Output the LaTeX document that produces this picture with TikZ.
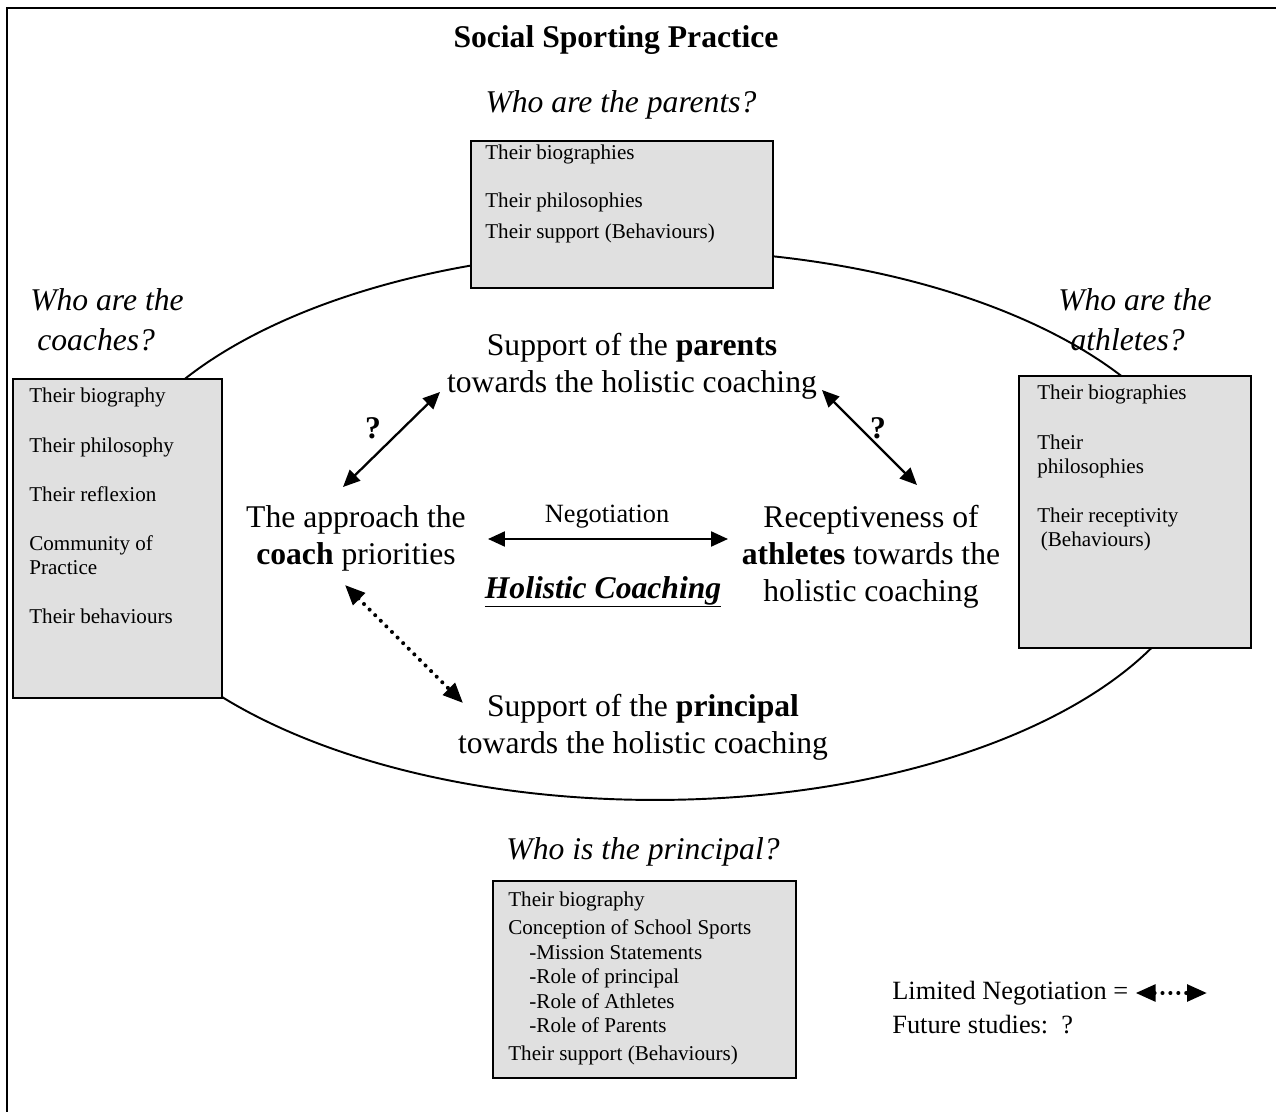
\documentclass[tikz,border=0pt]{standalone}
\usepackage{fontspec}
\setmainfont{Liberation Serif}
\usetikzlibrary{arrows.meta}
\usetikzlibrary{calc}

\newcommand{\mainsize}{\fontsize{18}{21}\selectfont}
\newcommand{\boxsize}{\fontsize{12}{13.9}\selectfont}
\newcommand{\legsize}{\fontsize{15}{18}\selectfont}

\begin{document}
\begin{tikzpicture} [
    x=0.02cm, y=-0.02cm,
    block/.style   = { rectangle, draw=black, line width=1pt, fill=black!12,
                       anchor=north west },
    boxtext/.style = { anchor=north west, inner sep=0pt, align=left, font=\boxsize },
    main/.style    = { align=center, inner sep=0pt, font=\mainsize },
    quest/.style   = { inner sep=0pt, font=\mainsize\itshape },
    line/.style    = { draw, line width=1.3pt,
                       {Triangle[length=0.34cm,width=0.3cm]}-{Triangle[length=0.34cm,width=0.3cm]} },
    dots/.style    = { line width=2.3pt, line cap=round, dash pattern=on 0pt off 4.5pt,
                       {Triangle[length=0.4cm,width=0.33cm]}-{Triangle[length=0.4cm,width=0.33cm]} },
    etiq/.style    = { midway, font=\mainsize\bfseries },
  ]
\useasboundingbox (0,0) rectangle (1276,1112);
\draw[line width=1.3pt] (7,1112) -- (7,8) -- (1276,8);
% the ellipse goes behind the boxes
\draw[line width=1.1pt] (655,525) ellipse [x radius=11.1cm, y radius=5.5cm];

\node (title) [font=\mainsize\bfseries] at (616,40) {Social Sporting Practice};

% parents
\node (qpar) [quest] at (621,105) {Who are the parents?};
\node (pbox) [block, minimum width=6.04cm, minimum height=2.94cm] at (470,140) {};
\node (ptext) [boxtext] at ($(pbox.north west)+(15,5)$)
  {Their biographies\\[13pt]Their philosophies\\[4pt]Their support (Behaviours)};

% coaches
\node (qcoa) [quest, align=left] at (107,320) {Who are the\\[1.7pt]\hspace*{4pt}coaches?};
\node (cbox) [block, minimum width=4.18cm, minimum height=6.38cm] at (12,378) {};
\node (ctext) [boxtext] at ($(cbox.north west)+(17,10)$)
  {Their biography\\[14pt]Their philosophy\\[14pt]Their reflexion\\[14pt]Community of\\Practice\\[14pt]Their behaviours};

% athletes
\node (qath) [quest, align=left] at (1135,320) {Who are the\\[1.7pt]\hspace*{7pt}athletes?};
\node (abox) [block, minimum width=4.64cm, minimum height=5.44cm] at (1018,375) {};
\node (atext) [boxtext] at ($(abox.north west)+(19,10)$)
  {Their biographies\\[14pt]Their\\philosophies\\[14pt]Their receptivity\\\hspace*{2pt}(Behaviours)};

% principal
\node (qpri) [quest] at (643,852) {Who is the principal?};
\node (rbox) [block, minimum width=6.06cm, minimum height=3.94cm] at (492,880) {};
\node (rtext) [boxtext] at ($(rbox.north west)+(16,12)$)
  {Their biography\\[2pt]Conception of School Sports\\\hspace*{12pt}-Mission Statements\\
   \hspace*{12pt}-Role of principal\\\hspace*{12pt}-Role of Athletes\\
   \hspace*{12pt}-Role of Parents\\[2pt]Their support (Behaviours)};

% inside the ellipse
\node (par) [main] at (632,366) {Support of the \textbf{parents}\\towards the holistic coaching};
\node (coach) [main] at (356,538) {The approach the\\\textbf{coach} priorities};
\node (ath) [main] at (871,557) {Receptiveness of\\\textbf{athletes} towards the\\holistic coaching};
\node (prin) [main] at (643,727) {Support of the \textbf{principal}\\towards the holistic coaching};
\node (nego) [font=\legsize] at (607,517) {Negotiation};
\node (holi) [font=\mainsize\bfseries\itshape] at (603,603)
  {\underline{\smash{Holistic Coaching}\rule[-2.6pt]{0pt}{0pt}}};

\begin{scope}[every path/.style=line]
\path ($(par)+(-192,26)$) -- node[etiq, xshift=-0.37cm, yshift=0.23cm] {?} ($(coach)+(-13,-51)$);
\path ($(par)+(190,24)$) -- node[etiq, xshift=0.17cm, yshift=0.19cm] {?} ($(ath)+(46,-72)$);
\path ($(coach)+(132,1)$) -- ($(ath)+(-143,-18)$);
\path[dots] ($(coach)+(-11,47)$) -- ($(prin)+(-180,-24)$);
\end{scope}

% legend
\node (lim) [anchor=west, inner sep=0pt, font=\legsize] at (892,993) {Limited Negotiation =};
\node (fut) [anchor=west, inner sep=0pt, font=\legsize] at (892,1025) {Future studies:\ \ ?};
\coordinate (limend) at (1207,993);
\path[line, dots] ($(lim.east)+(7,0)$) -- (limend);

\end{tikzpicture}
\end{document}
